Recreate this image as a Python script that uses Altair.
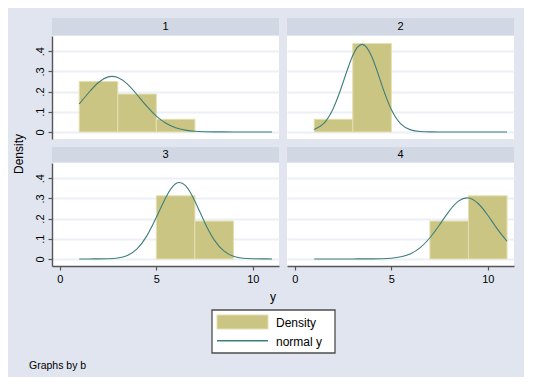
import altair as alt
import pandas as pd

# ---------------- data ----------------
panel_labels = ["1", "2", "3", "4"]
bin_left = [1, 3, 5, 7, 9]
bin_right = [3, 5, 7, 9, 11]
density_1 = [0.25, 0.1875, 0.0625, 0.0, 0.0]
density_2 = [0.0625, 0.4375, 0.0, 0.0, 0.0]
density_3 = [0.0, 0.0, 0.3125, 0.1875, 0.0]
density_4 = [0.0, 0.0, 0.0, 0.1875, 0.3125]

curve_x = [1, 1.5, 2, 2.5, 3, 3.5, 4, 4.5, 5, 5.5, 6,
           6.5, 7, 7.5, 8, 8.5, 9, 9.5, 10, 10.5, 11]
normal_1 = [0.1383, 0.1953, 0.2448, 0.2725, 0.2693, 0.2363, 0.1841, 0.1273, 0.0782, 0.0426, 0.0206,
            0.0089, 0.0034, 0.0011, 0.0003, 0.0001, 0.0, 0.0, 0.0, 0.0, 0.0]
normal_2 = [0.0115, 0.0428, 0.1189, 0.2459, 0.3785, 0.4335, 0.3696, 0.2345, 0.1107, 0.0389, 0.0102,
            0.0020, 0.0003, 0.0, 0.0, 0.0, 0.0, 0.0, 0.0, 0.0, 0.0]
normal_3 = [0.0, 0.0, 0.0002, 0.0012, 0.0049, 0.0175, 0.0500, 0.1130, 0.2060, 0.3060, 0.3720,
            0.3640, 0.2860, 0.1820, 0.0945, 0.0400, 0.0135, 0.0037, 0.0008, 0.0002, 0.0]
normal_4 = [0.0, 0.0, 0.0, 0.0, 0.0, 0.0001, 0.0003, 0.0011, 0.0037, 0.0105, 0.0262,
            0.0563, 0.1049, 0.1694, 0.2370, 0.2873, 0.3016, 0.2744, 0.2162, 0.1476, 0.0873]

y_ticks = [0, 0.1, 0.2, 0.3, 0.4]
x_ticks = [0, 5, 10]
legend_labels = ["Density", "normal y"]
y_title = "Density"
x_title = "y"
note_text = "Graphs by b"

densities = [density_1, density_2, density_3, density_4]
normals = [normal_1, normal_2, normal_3, normal_4]

# ---------------- styling ----------------
FONT = "Liberation Sans"
BG = "#E1E5EF"
STRIP = "#D2D8E3"
GRID = "#ECEFF5"
BAR = "#CBC583"
BAR_EDGE = "#E3DFB0"
LINE = "#3F7E7B"
AXIS = "#555555"

W, H = 227, 103
xs = alt.Scale(domain=[-0.41, 11.36], nice=False, zero=False)
ys = alt.Scale(domain=[-0.035, 0.475], nice=False, zero=False)

Y_LABEL_EXPR = "datum.value == 0 ? '0' : replace(format(datum.value, '.1f'), '0.', '.')"


def y_axis(left):
    if left:
        return alt.Axis(values=y_ticks, grid=True, gridColor=GRID, gridWidth=2,
                        domain=True, domainColor=AXIS, domainWidth=1.4,
                        ticks=True, tickColor=AXIS, tickSize=4, tickWidth=1.2,
                        labels=True, labelAngle=270, labelAlign="center",
                        labelBaseline="bottom", labelPadding=3,
                        labelExpr=Y_LABEL_EXPR, labelFont=FONT, labelFontSize=11,
                        labelColor="black", title=None)
    return alt.Axis(values=y_ticks, grid=True, gridColor=GRID, gridWidth=2,
                    domain=False, ticks=False, labels=False, title=None)


def x_axis(bottom):
    if bottom:
        return alt.Axis(values=x_ticks, grid=False, domain=True, domainColor=AXIS,
                        domainWidth=1.4, ticks=True, tickColor=AXIS, tickSize=4,
                        tickWidth=1.2, labelFont=FONT, labelFontSize=11,
                        labelColor="black", labelPadding=3, format="d", title=None)
    return None


def panel(i, left, bottom, strip_h):
    bars = pd.DataFrame({"x0": bin_left, "x1": bin_right, "d": densities[i]})
    bars = bars[bars["d"] > 0]
    curve = pd.DataFrame({"x": curve_x, "y": normals[i]})
    lab = pd.DataFrame({"label": [panel_labels[i]]})
    xa = x_axis(bottom)
    ya = y_axis(left)
    bar_layer = alt.Chart(bars).mark_rect(fill=BAR, stroke=BAR_EDGE, strokeWidth=1).encode(
        x=alt.X("x0:Q", scale=xs, axis=xa),
        x2="x1:Q",
        y=alt.Y("d:Q", scale=ys, axis=ya),
        y2=alt.datum(0),
    )
    line_layer = alt.Chart(curve).mark_line(interpolate="natural", color=LINE,
                                            strokeWidth=1.1).encode(
        x=alt.X("x:Q", scale=xs, axis=xa),
        y=alt.Y("y:Q", scale=ys, axis=ya),
    )
    # panel header strip (drawn just above the plot area)
    strip_rect = alt.Chart(lab).mark_rect(fill=STRIP).encode(
        x=alt.value(0), x2=alt.value(W), y=alt.value(-strip_h - 1), y2=alt.value(-1))
    strip_text = alt.Chart(lab).mark_text(font=FONT, fontSize=11, color="black",
                                          align="center", baseline="middle").encode(
        x=alt.value(W / 2), y=alt.value(-strip_h / 2 - 0.5), text="label:N")
    return alt.layer(bar_layer, line_layer, strip_rect, strip_text).properties(
        width=W, height=H, view=alt.ViewBackground(fill="white", stroke=None))


grid = alt.concat(
    panel(0, True, False, 17), panel(1, False, False, 17),
    panel(2, True, True, 15), panel(3, False, True, 15),
    columns=2, spacing=8,
)

one = pd.DataFrame({"k": [0]})
title_col = alt.Chart(one).mark_text(font=FONT, fontSize=12, color="black", angle=270,
                                     align="center", baseline="middle").encode(
    x=alt.value(11), y=alt.value(118), text=alt.value(y_title)
).properties(width=20, height=248, view=alt.ViewBackground(fill=None, stroke=None))

main = alt.hconcat(title_col, grid, spacing=6)

# footer: x-axis title, legend, note
x_title_mark = alt.Chart(one).mark_text(font=FONT, fontSize=12, color="black",
                                        align="center", baseline="middle").encode(
    x=alt.value(265), y=alt.value(10), text=alt.value(x_title))
legend_box = alt.Chart(one).mark_rect(fill="white", stroke="#4D4D4D", strokeWidth=1.3).encode(
    x=alt.value(204), x2=alt.value(327), y=alt.value(23), y2=alt.value(66))
legend_bar = alt.Chart(one).mark_rect(fill=BAR, stroke=BAR_EDGE, strokeWidth=1).encode(
    x=alt.value(209), x2=alt.value(260), y=alt.value(28), y2=alt.value(42))
legend_line = alt.Chart(one).mark_rule(color=LINE, strokeWidth=1.5).encode(
    x=alt.value(209), x2=alt.value(260), y=alt.value(53.7))
legend_t1 = alt.Chart(one).mark_text(font=FONT, fontSize=12, color="black",
                                     align="left", baseline="middle").encode(
    x=alt.value(268), y=alt.value(36), text=alt.value(legend_labels[0]))
legend_t2 = alt.Chart(one).mark_text(font=FONT, fontSize=12, color="black",
                                     align="left", baseline="middle").encode(
    x=alt.value(268), y=alt.value(55), text=alt.value(legend_labels[1]))
note = alt.Chart(one).mark_text(font=FONT, fontSize=10.5, color="black",
                                align="left", baseline="middle").encode(
    x=alt.value(21), y=alt.value(79), text=alt.value(note_text))

footer = alt.layer(x_title_mark, legend_box, legend_bar, legend_line,
                   legend_t1, legend_t2, note).properties(
    width=516, height=90, view=alt.ViewBackground(fill=None, stroke=None))

chart = alt.vconcat(main, footer, spacing=3).properties(
    padding={"left": 0, "top": 10, "right": 0, "bottom": 0},
    background=BG,
).configure_view(stroke=None).configure(font=FONT)

chart.save("out.html", embed_options={"renderer": "svg", "actions": False})
